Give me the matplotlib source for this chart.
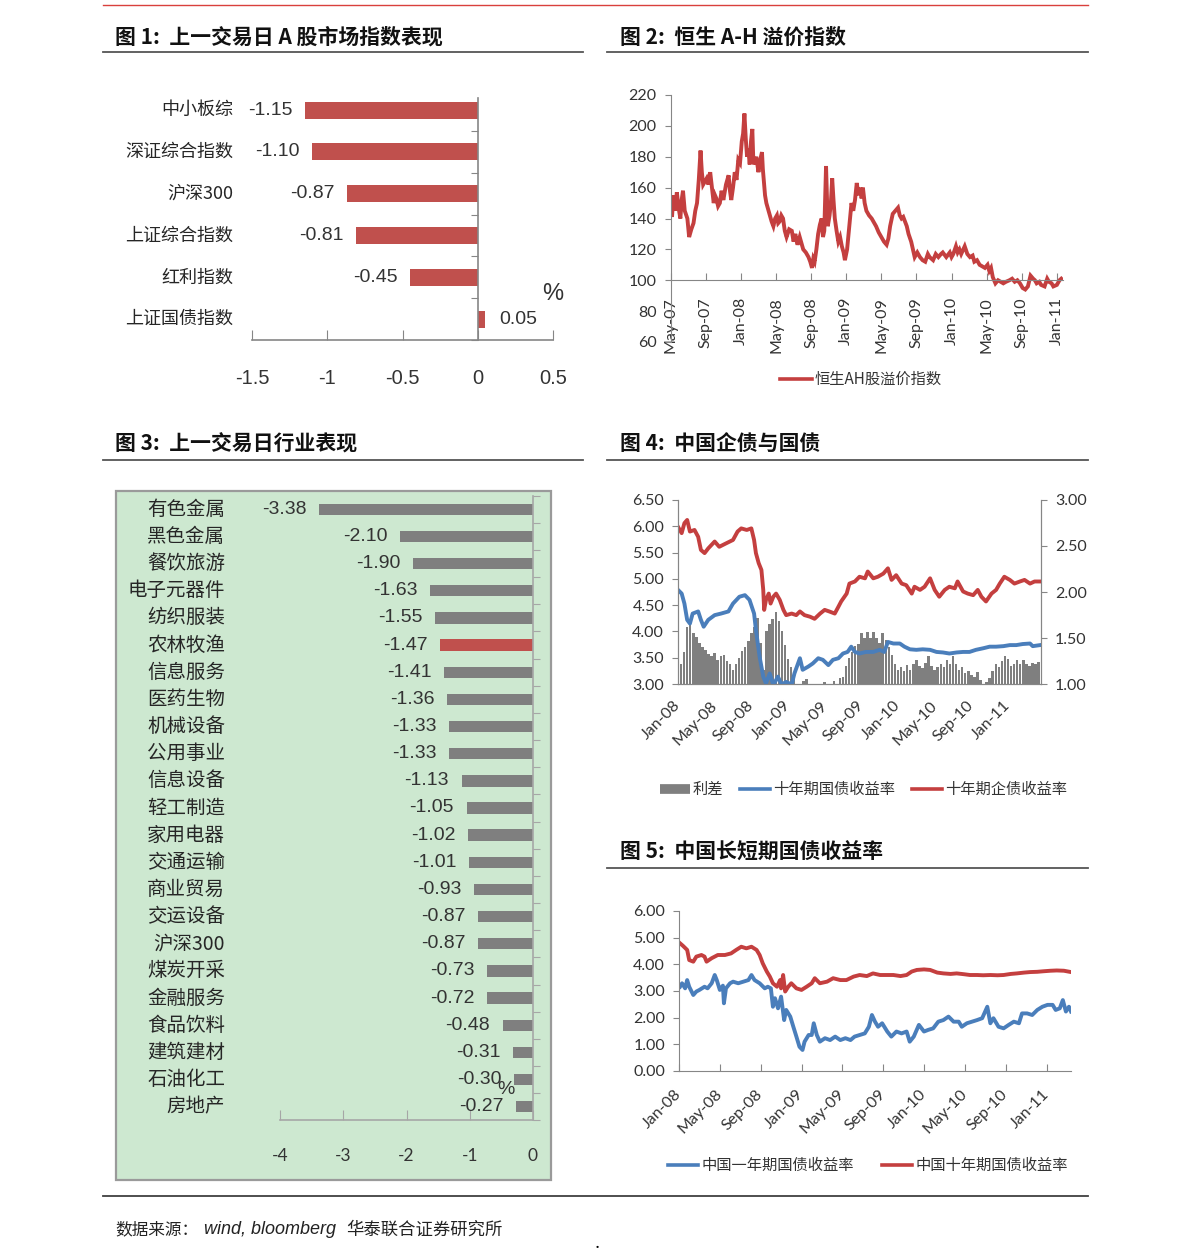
import matplotlib
matplotlib.use('Agg')
import matplotlib.pyplot as plt
import matplotlib.transforms as mtransforms
from matplotlib.patches import Rectangle
from matplotlib.lines import Line2D
import numpy as np

CJK = ['Noto Sans CJK SC', 'DejaVu Sans']
NUM = ['Liberation Sans Narrow', 'Liberation Sans', 'DejaVu Sans']
TICK = ['Lato', 'DejaVu Sans']
plt.rcParams['font.family'] = CJK

# ---------------- 数据 ----------------
# 图1 指数表现
idx_names = ['中小板综', '深证综合指数', '沪深300', '上证综合指数', '红利指数', '上证国债指数']
idx_chg = [-1.15, -1.10, -0.87, -0.81, -0.45, 0.05]

# 图2 恒生AH股溢价指数 (横轴: 自2007年5月起的月数)
ah_month = [0.0, 0.15, 0.3, 0.5, 0.7, 0.9, 1.1, 1.25, 1.4, 1.6, 1.9, 2.1, 2.35, 2.6, 2.8, 3.0,
            3.2, 3.4, 3.55, 3.7, 3.9, 4.1, 4.3, 4.5, 4.7, 4.9, 5.05, 5.2, 5.4, 5.6, 5.8, 6.0,
            6.3, 6.6, 6.75, 6.9, 7.1, 7.3, 7.5, 7.7, 7.9, 8.1, 8.25, 8.4, 8.55, 8.7, 8.85, 9.0,
            9.15, 9.3, 9.4, 9.5, 9.75, 10.0, 10.2, 10.4, 10.5, 10.6, 10.75, 10.9, 11.1, 11.3,
            11.5, 11.7, 11.9, 12.1, 12.25, 12.4, 12.6, 12.8, 13.0, 13.2, 13.5, 13.8, 14.0, 14.2,
            14.45, 14.7, 14.9, 15.1, 15.4, 15.7, 15.9, 16.1, 16.25, 16.4, 16.6, 16.8, 17.0,
            17.2, 17.35, 17.5, 17.7, 17.9, 18.1, 18.25, 18.4, 18.55, 18.7, 18.9, 19.1, 19.3,
            19.5, 19.7, 19.85, 20.1, 20.4, 20.6, 20.8, 21.0, 21.2, 21.4, 21.6, 21.75, 21.9,
            22.1, 22.3, 22.6, 22.9, 23.2, 23.4, 23.7, 24.0, 24.3, 24.6, 24.8, 25.0, 25.3,
            25.6, 25.9, 26.1, 26.3, 26.5, 26.7, 26.9, 27.1, 27.4, 27.8, 28.1, 28.4, 28.7,
            29.0, 29.3, 29.5, 29.9, 30.2, 30.5, 30.8, 31.0, 31.4, 31.8, 32.0, 32.2, 32.5,
            32.7, 32.9, 33.1, 33.5, 33.8, 34.1, 34.4, 34.6, 34.9, 35.2, 35.5, 35.8, 36.1,
            36.3, 36.5, 36.7, 37.0, 37.3, 37.6, 37.9, 38.2, 38.6, 38.9, 39.2, 39.5, 39.8,
            40.1, 40.4, 40.7, 41.0, 41.3, 41.5, 41.7, 42.0, 42.2, 42.6, 42.9, 43.1, 43.4,
            43.6, 44.0, 44.3, 44.5]
ah_value = [152, 141, 155, 145, 157, 147, 140, 152, 158, 145, 140, 128, 133, 137, 145, 150,
            165, 184, 170, 162, 164, 166, 162, 170, 160, 150, 155, 153, 148, 150, 158, 152,
            162, 168, 158, 152, 160, 170, 165, 178, 176, 190, 195, 208, 192, 180, 185, 175,
            190, 198, 180, 175, 180, 170, 178, 183, 172, 165, 155, 150, 146, 142, 138, 135,
            140, 142, 137, 138, 142, 140, 132, 128, 133, 132, 125, 130, 123, 128, 124, 120,
            118, 115, 112, 108, 114, 112, 120, 130, 136, 140, 128, 132, 174, 135, 142, 150,
            166, 152, 140, 132, 125, 128, 122, 118, 113, 120, 138, 150, 145, 152, 163, 155,
            160, 153, 160, 150, 145, 142, 140, 137, 135, 131, 128, 125, 123, 127, 135, 143,
            145, 147, 142, 140, 141, 138, 135, 130, 125, 115, 118, 115, 113, 112, 117, 115,
            113, 117, 115, 117, 118, 115, 118, 115, 117, 122, 118, 120, 117, 122, 117, 115,
            116, 112, 113, 110, 109, 108, 110, 106, 108, 102, 98, 100, 99, 98, 99, 100,
            101, 99, 100, 98, 95, 94, 96, 103, 101, 100, 98, 99, 97, 96, 101, 99, 98, 96,
            97, 100, 101]
ah_ticks = ['May-07', 'Sep-07', 'Jan-08', 'May-08', 'Sep-08', 'Jan-09', 'May-09',
            'Sep-09', 'Jan-10', 'May-10', 'Sep-10', 'Jan-11']

# 图3 行业表现
ind_names = ['有色金属', '黑色金属', '餐饮旅游', '电子元器件', '纺织服装', '农林牧渔', '信息服务',
             '医药生物', '机械设备', '公用事业', '信息设备', '轻工制造', '家用电器', '交通运输',
             '商业贸易', '交运设备', '沪深300', '煤炭开采', '金融服务', '食品饮料', '建筑建材',
             '石油化工', '房地产']
ind_chg = [-3.38, -2.10, -1.90, -1.63, -1.55, -1.47, -1.41, -1.36, -1.33, -1.33, -1.13, -1.05,
           -1.02, -1.01, -0.93, -0.87, -0.87, -0.73, -0.72, -0.48, -0.31, -0.30, -0.27]
ind_highlight = '农林牧渔'

# 图4 企债与国债 (横轴: 自2008年1月起的月数)
corp_month = [0.0, 0.4, 0.7, 1.0, 1.3, 1.8, 2.2, 2.5, 2.9, 3.3, 4.0, 4.5, 5.3, 6.0, 6.5, 6.9,
              7.5, 8.0, 8.3, 8.5, 8.8, 9.1, 9.3, 9.4, 9.6, 9.9, 10.1, 10.4, 10.7, 11.1, 11.5,
              11.8, 12.4, 12.9, 13.3, 13.8, 14.4, 14.9, 15.5, 16.0, 16.5, 17.1, 17.5, 17.8,
              18.4, 18.7, 19.3, 19.8, 20.4, 20.7, 21.3, 21.8, 22.4, 22.9, 23.3, 23.8, 24.4,
              24.9, 25.5, 25.8, 26.4, 26.9, 27.5, 28.0, 28.5, 29.1, 29.6, 30.2, 30.5, 31.1,
              31.6, 32.2, 32.7, 33.1, 33.6, 34.2, 34.7, 35.1, 35.6, 36.2, 36.7, 37.3, 37.8,
              38.4, 38.9, 39.5]
corp10 = [5.99, 5.87, 6.06, 6.12, 5.90, 5.93, 5.80, 5.55, 5.49, 5.58, 5.71, 5.61, 5.68, 5.74,
          5.90, 5.96, 5.93, 5.96, 5.74, 5.49, 5.30, 5.17, 4.79, 4.41, 4.60, 4.72, 4.53, 4.66,
          4.72, 4.60, 4.41, 4.31, 4.34, 4.31, 4.38, 4.31, 4.28, 4.24, 4.34, 4.41, 4.38, 4.34,
          4.47, 4.57, 4.72, 4.91, 4.95, 5.04, 5.01, 5.14, 5.01, 5.04, 5.10, 5.20, 4.98, 5.07,
          4.91, 4.88, 4.72, 4.85, 4.79, 4.85, 5.01, 4.79, 4.66, 4.79, 4.85, 4.82, 4.95, 4.76,
          4.72, 4.69, 4.79, 4.66, 4.57, 4.72, 4.79, 4.91, 5.04, 4.98, 4.91, 4.95, 4.98, 4.91,
          4.95, 4.95]
gov_month = [0.0, 0.4, 0.7, 1.0, 1.3, 1.6, 2.2, 2.5, 2.8, 3.3, 4.0, 4.7, 5.5, 6.0, 6.7, 7.3,
             7.8, 8.3, 8.5, 8.9, 9.3, 9.6, 10.0, 10.4, 10.9, 11.3, 11.8, 12.4, 12.7, 13.3, 13.6,
             14.2, 14.7, 15.3, 15.8, 16.4, 16.9, 17.5, 18.0, 18.5, 18.9, 19.3, 19.8, 20.5,
             21.3, 22.0, 22.5, 22.9, 23.5, 24.2, 24.7, 25.3, 26.0, 26.7, 27.5, 28.2, 28.9,
             29.6, 30.4, 31.1, 31.8, 32.5, 33.3, 34.0, 34.7, 35.5, 36.2, 36.9, 37.6, 38.4,
             38.7, 39.5]
gov10 = [4.79, 4.72, 4.53, 4.22, 4.15, 4.34, 4.38, 4.22, 4.09, 4.22, 4.31, 4.34, 4.38, 4.53,
         4.66, 4.69, 4.60, 4.34, 4.03, 3.52, 3.14, 3.01, 3.20, 2.98, 3.14, 2.99, 3.04, 2.99,
         3.20, 3.49, 3.27, 3.33, 3.39, 3.49, 3.46, 3.36, 3.46, 3.49, 3.58, 3.61, 3.71, 3.61,
         3.58, 3.61, 3.61, 3.65, 3.61, 3.80, 3.77, 3.77, 3.71, 3.66, 3.65, 3.66, 3.65, 3.61,
         3.60, 3.58, 3.60, 3.61, 3.61, 3.65, 3.68, 3.71, 3.71, 3.72, 3.74, 3.74, 3.76, 3.77,
         3.72, 3.74]
# 利差, 每1/3个月一个读数 (右轴)
spread = [1.30, 1.22, 1.35, 1.62, 1.66, 1.55, 1.51, 1.45, 1.40, 1.37, 1.33, 1.30, 1.34, 1.26,
          1.30, 1.32, 1.25, 1.22, 1.15, 1.22, 1.28, 1.36, 1.40, 1.47, 1.55, 1.62, 1.72, 1.45,
          1.15, 1.58, 1.65, 1.71, 1.78, 1.68, 1.58, 1.42, 1.27, 1.18, 1.05, 1.00, 1.00, 1.03,
          1.05, 1.00, 1.00, 1.00, 1.00, 1.00, 1.02, 1.00, 1.00, 1.03, 1.00, 1.06, 1.08, 1.20,
          1.28, 1.35, 1.41, 1.44, 1.55, 1.50, 1.57, 1.50, 1.56, 1.50, 1.45, 1.55, 1.48, 1.40,
          1.32, 1.22, 1.15, 1.19, 1.14, 1.21, 1.15, 1.22, 1.26, 1.20, 1.17, 1.23, 1.30, 1.20,
          1.15, 1.18, 1.22, 1.18, 1.26, 1.22, 1.30, 1.22, 1.15, 1.18, 1.12, 1.14, 1.10, 1.08,
          1.13, 1.04, 1.00, 1.02, 1.06, 1.14, 1.22, 1.19, 1.25, 1.30, 1.27, 1.20, 1.22, 1.26,
          1.22, 1.26, 1.22, 1.20, 1.23, 1.22, 1.24]
bond_ticks = ['Jan-08', 'May-08', 'Sep-08', 'Jan-09', 'May-09', 'Sep-09', 'Jan-10', 'May-10',
              'Sep-10', 'Jan-11']
fig4_legend = ['利差', '十年期国债收益率', '十年期企债收益率']

# 图5 长短期国债收益率
y10_month = [0.1, 0.4, 0.8, 1.0, 1.4, 1.7, 2.2, 2.5, 2.7, 3.2, 3.8, 4.5, 5.1, 5.6, 6.1, 6.6,
             7.1, 7.6, 7.9, 8.2, 8.6, 8.9, 9.2, 9.6, 9.9, 10.0, 10.2, 10.4, 10.7, 11.0, 11.5,
             12.0, 12.5, 13.0, 13.3, 13.8, 14.5, 15.1, 15.8, 16.4, 17.1, 17.7, 18.4, 19.0,
             19.7, 20.4, 21.0, 21.7, 22.3, 22.8, 23.3, 24.0, 24.6, 25.3, 25.9, 26.6, 27.2,
             27.9, 28.5, 29.2, 29.8, 30.5, 31.2, 31.8, 32.5, 33.1, 33.8, 34.4, 35.1, 35.7,
             36.4, 37.0, 37.7, 38.4]
y10_value = [4.79, 4.69, 4.54, 4.16, 4.10, 4.29, 4.35, 4.29, 4.10, 4.23, 4.35, 4.35, 4.41,
             4.54, 4.66, 4.60, 4.66, 4.54, 4.35, 4.04, 3.73, 3.54, 3.29, 3.16, 3.41, 3.10,
             3.60, 2.98, 3.16, 3.29, 3.10, 3.04, 3.16, 3.29, 3.48, 3.29, 3.35, 3.48, 3.41,
             3.41, 3.54, 3.60, 3.56, 3.66, 3.60, 3.60, 3.60, 3.56, 3.60, 3.73, 3.79, 3.81,
             3.79, 3.69, 3.66, 3.64, 3.66, 3.63, 3.60, 3.60, 3.59, 3.60, 3.59, 3.60, 3.64,
             3.66, 3.69, 3.71, 3.72, 3.74, 3.76, 3.77, 3.76, 3.71]
y1_month = [0.1, 0.3, 0.6, 0.8, 1.0, 1.4, 1.7, 2.0, 2.5, 2.8, 3.2, 3.5, 3.7, 4.0, 4.3, 4.4,
            4.6, 5.0, 5.3, 5.8, 6.3, 6.8, 7.1, 7.4, 7.9, 8.4, 8.7, 9.0, 9.2, 9.4, 9.7, 10.0,
            10.3, 10.5, 10.9, 11.2, 11.5, 11.8, 12.1, 12.3, 12.7, 13.0, 13.2, 13.5, 13.8,
            14.3, 14.8, 15.3, 15.8, 16.3, 16.8, 17.2, 17.7, 18.2, 18.6, 18.9, 19.2, 19.5,
            19.9, 20.4, 20.8, 21.3, 21.8, 22.3, 22.6, 23.0, 23.5, 24.0, 24.4, 24.9, 25.4,
            25.9, 26.4, 26.9, 27.4, 27.7, 28.2, 28.7, 29.2, 29.7, 30.2, 30.5, 30.8, 31.3,
            31.8, 32.3, 32.8, 33.3, 33.6, 34.1, 34.6, 35.1, 35.6, 36.1, 36.6, 36.9, 37.3,
            37.6, 37.9, 38.2, 38.4]
y1_value = [3.16, 3.29, 3.10, 3.41, 3.16, 2.85, 2.98, 3.04, 3.16, 3.10, 3.29, 3.60, 3.41,
            3.04, 3.20, 2.54, 3.10, 3.29, 3.35, 3.29, 3.35, 3.41, 3.60, 3.41, 3.29, 3.10,
            3.16, 3.10, 2.41, 2.73, 2.35, 2.79, 1.91, 2.29, 2.04, 1.66, 1.29, 0.91, 0.79,
            1.10, 1.35, 1.35, 1.79, 1.35, 1.10, 1.23, 1.16, 1.29, 1.16, 1.23, 1.16, 1.29,
            1.35, 1.41, 1.66, 2.10, 1.85, 1.66, 1.79, 1.48, 1.29, 1.48, 1.41, 1.48, 1.10,
            1.29, 1.73, 1.48, 1.54, 1.60, 1.85, 1.91, 2.04, 1.85, 1.85, 1.66, 1.79, 1.85,
            1.91, 1.98, 2.41, 1.79, 1.98, 1.66, 1.60, 1.73, 1.85, 1.79, 2.16, 2.16, 2.10,
            2.29, 2.41, 2.48, 2.48, 2.29, 2.35, 2.66, 2.23, 2.41, 2.23]
fig5_legend = ['中国一年期国债收益率', '中国十年期国债收益率']

RED = '#c0504d'
LINE_RED = '#c43f3f'
BLUE = '#4a7ebb'
GRAY_BAR = '#7f7f7f'
AXIS = '#868686'
TXT = '#262626'

W, H = 1191, 1260
fig = plt.figure(figsize=(W / 100, H / 100), dpi=100)


def px_axes(l, t, r, b):
    return fig.add_axes([l / W, 1 - b / H, (r - l) / W, (b - t) / H])


def fline(x0, x1, y0, y1, **kw):
    fig.add_artist(Line2D([x0 / W, x1 / W], [1 - y0 / H, 1 - y1 / H],
                          transform=fig.transFigure, **kw))


def ftext(x, y, s, **kw):
    fig.text(x / W, 1 - y / H, s, **kw)


# ---------------- 页面框架 ----------------
fline(103, 1088, 5, 5, color='#d9403c', lw=1.0)
titles = [(115, 37, '图 1:  上一交易日 A 股市场指数表现'),
          (620, 37, '图 2:  恒生 A-H 溢价指数'),
          (115, 444, '图 3:  上一交易日行业表现'),
          (620, 444, '图 4:  中国企债与国债'),
          (620, 852, '图 5:  中国长短期国债收益率')]
for x, y, s in titles:
    ftext(x, y, s, fontsize=15, fontweight='bold', va='center', family=CJK, color='#111111')
fline(103, 583, 52, 52, color='#555555', lw=1.3)
fline(607, 1088, 52, 52, color='#555555', lw=1.3)
fline(103, 583, 460, 460, color='#555555', lw=1.3)
fline(607, 1088, 460, 460, color='#555555', lw=1.3)
fline(607, 1088, 868, 868, color='#555555', lw=1.3)
fline(103, 1088, 1196, 1196, color='#404040', lw=1.3)

ftext(115, 1230, '数据来源：', fontsize=12, va='center', family=CJK, color='#222222')
ftext(204, 1230, 'wind, bloomberg', fontsize=13, va='center', style='italic',
      family=['Liberation Sans', 'DejaVu Sans'], color='#222222')
ftext(346, 1230, '华泰联合证券研究所', fontsize=12.5, va='center', family=CJK, color='#222222')
ftext(597, 1248, '•', fontsize=8, ha='center', va='center', color='black')

# ---------------- 图1 ----------------
ax1 = px_axes(252, 98, 553, 340)
y1pos = np.arange(len(idx_names))
ax1.barh(y1pos, idx_chg, height=0.41, color=RED)
ax1.spines['top'].set_visible(False)
ax1.spines['right'].set_visible(False)
ax1.spines['left'].set_position(('data', 0))
for s in ['left', 'bottom']:
    ax1.spines[s].set_color(AXIS)
    ax1.spines[s].set_linewidth(1.2)
ax1.set_yticks(np.arange(-0.5, len(idx_names), 1))
ax1.tick_params(axis='y', direction='out', length=5, color=AXIS, labelleft=False)
ax1.set_xticks([-1.5, -1, -0.5, 0, 0.5])
ax1.set_xticklabels(['-1.5', '-1', '-0.5', '0', '0.5'], family=NUM, fontsize=14.5, color='#333333')
ax1.tick_params(axis='x', direction='in', length=7, color=AXIS, pad=21)
ax1.set_xlim(-1.5, 0.5)
ax1.set_ylim(len(idx_names) - 0.5, -0.29)
tr1 = mtransforms.blended_transform_factory(ax1.transAxes, ax1.transData)
for i, (name, v) in enumerate(zip(idx_names, idx_chg)):
    ax1.text(-0.063, i, name, transform=tr1, ha='right', va='center', fontsize=13,
             family=CJK, color=TXT)
    ax1.annotate(f'{v:.2f}', (v, i), xytext=(-9 if v < 0 else 10, 0),
                 textcoords='offset points', ha='right' if v < 0 else 'left',
                 va='center', fontsize=14, family=NUM, color='#333333')
ftext(553, 294, '%', fontsize=17, ha='center', va='center', family=NUM, color='#333333')

# ---------------- 图2 ----------------
ax2 = px_axes(670.7, 95, 1063, 342)
ax2.plot(ah_month, ah_value, color=LINE_RED, lw=2.8, solid_joinstyle='miter')
ax2.set_yticks(range(60, 221, 20))
ax2.spines['top'].set_visible(False)
ax2.spines['right'].set_visible(False)
ax2.spines['bottom'].set_position(('data', 100))
for s in ['left', 'bottom']:
    ax2.spines[s].set_color(AXIS)
ax2.set_xticks(range(0, 45, 4))
ax2.set_xticklabels(ah_ticks, rotation=90, family=TICK, fontsize=11.5, color='#333333')
ax2.tick_params(axis='x', direction='in', length=5, color=AXIS, pad=12)
ax2.tick_params(axis='y', direction='out', length=4, color=AXIS, labelsize=11.5,
                labelcolor='#333333', pad=6)
for lbl in ax2.get_yticklabels():
    lbl.set_family(TICK)
ax2.set_xlim(0, 44.7)
ax2.set_ylim(60, 220)
fline(780, 812, 379, 379, color=LINE_RED, lw=2.6)
ftext(815, 379, '恒生AH股溢价指数', fontsize=11, va='center', family=CJK, color='#333333')

# ---------------- 图3 ----------------
fig.add_artist(Rectangle((116 / W, 1 - 1180 / H), (551 - 116) / W, (1180 - 491) / H,
                         transform=fig.transFigure, facecolor='#cde8d0',
                         edgecolor='#9a9a9a', lw=1.6, zorder=-1))
ax3 = px_axes(280, 495.7, 533, 1120.3)
ax3.patch.set_visible(False)
y3pos = np.arange(len(ind_names))
bar_colors = [RED if n == ind_highlight else GRAY_BAR for n in ind_names]
ax3.barh(y3pos, ind_chg, height=0.42, color=bar_colors)
ax3.spines['top'].set_visible(False)
ax3.spines['left'].set_visible(False)
for s in ['right', 'bottom']:
    ax3.spines[s].set_color('#a6a6a6')
    ax3.spines[s].set_linewidth(1.2)
ax3.yaxis.tick_right()
ax3.set_yticks(np.arange(-0.5, len(ind_names), 1))
ax3.tick_params(axis='y', direction='out', length=5, color='#a6a6a6', labelright=False)
ax3.set_xticks([-4, -3, -2, -1, 0])
ax3.set_xticklabels(['-4', '-3', '-2', '-1', '0'], family=TICK, fontsize=12.5, color='#333333')
ax3.tick_params(axis='x', direction='in', length=7, color='#a6a6a6', pad=20)
ax3.set_xlim(-4, 0)
ax3.set_ylim(len(ind_names) - 0.5, -0.5)
tr3 = mtransforms.blended_transform_factory(ax3.transAxes, ax3.transData)
for i, (name, v) in enumerate(zip(ind_names, ind_chg)):
    ax3.text(-0.217, i, name, transform=tr3, ha='right', va='center', fontsize=14,
             family=CJK, color=TXT)
    ax3.annotate(f'{v:.2f}', (v, i), xytext=(-9, 0), textcoords='offset points',
                 ha='right', va='center', fontsize=14, family=NUM, color='#333333')
ftext(506, 1090, '%', fontsize=14, ha='center', va='center', family=NUM, color='#333333')

# ---------------- 图4 ----------------
ax4 = px_axes(678, 500, 1041, 684)
ax4b = ax4.twinx()
spread_month = np.arange(len(spread)) / 3
ax4b.bar(spread_month, spread, width=0.27, color=GRAY_BAR, linewidth=0)
ax4.set_zorder(ax4b.get_zorder() + 1)
ax4.patch.set_visible(False)
ax4.plot(gov_month, gov10, color=BLUE, lw=2.8)
ax4.plot(corp_month, corp10, color=LINE_RED, lw=2.8)
ax4.set_yticks(np.arange(3, 6.51, 0.5))
ax4.set_yticklabels([f'{v:.2f}' for v in np.arange(3, 6.51, 0.5)], family=TICK,
                    fontsize=11.5, color='#333333')
ax4b.set_yticks(np.arange(1, 3.01, 0.5))
ax4b.set_yticklabels([f'{v:.2f}' for v in np.arange(1, 3.01, 0.5)], family=TICK,
                     fontsize=11.5, color='#333333')
for a in (ax4, ax4b):
    a.spines['top'].set_visible(False)
    for s in ['left', 'right', 'bottom']:
        a.spines[s].set_color(AXIS)
    a.tick_params(axis='y', direction='out', length=4, color=AXIS, pad=6)
ax4.set_xticks(range(0, 37, 4))
ax4.set_xticklabels(bond_ticks, family=TICK, fontsize=11.5, color='#333333')
plt.setp(ax4.get_xticklabels(), rotation=45, ha='right', va='center', rotation_mode='anchor')
ax4.tick_params(axis='x', length=0, pad=14)
ax4b.tick_params(axis='x', length=0, labelbottom=False)
ax4.set_xlim(0, 39.6)
ax4b.set_xlim(0, 39.6)
ax4.set_ylim(3, 6.5)
ax4b.set_ylim(1, 3)

fline(660, 690, 789, 789, color=GRAY_BAR, lw=7, solid_capstyle='butt')
ftext(693, 789, fig4_legend[0], fontsize=11, va='center', family=CJK, color='#333333')
fline(740, 770, 789, 789, color=BLUE, lw=2.6)
ftext(773, 789, fig4_legend[1], fontsize=11, va='center', family=CJK, color='#333333')
fline(912, 942, 789, 789, color=LINE_RED, lw=2.6)
ftext(945, 789, fig4_legend[2], fontsize=11, va='center', family=CJK, color='#333333')

# ---------------- 图5 ----------------
ax5 = px_axes(679, 911, 1071, 1071)
ax5.plot(y1_month, y1_value, color=BLUE, lw=2.8)
ax5.plot(y10_month, y10_value, color=LINE_RED, lw=2.8)
ax5.set_yticks(np.arange(0, 6.01, 1))
ax5.set_yticklabels([f'{v:.2f}' for v in np.arange(0, 6.01, 1)], family=TICK,
                    fontsize=11.5, color='#333333')
ax5.spines['top'].set_visible(False)
ax5.spines['right'].set_visible(False)
for s in ['left', 'bottom']:
    ax5.spines[s].set_color(AXIS)
ax5.tick_params(axis='y', direction='out', length=4, color=AXIS, pad=6)
ax5.set_xticks(range(0, 37, 4))
ax5.set_xticklabels(bond_ticks, family=TICK, fontsize=11.5, color='#333333')
plt.setp(ax5.get_xticklabels(), rotation=45, ha='right', va='center', rotation_mode='anchor')
ax5.tick_params(axis='x', direction='in', length=5, color=AXIS, pad=15)
ax5.set_xlim(0, 38.4)
ax5.set_ylim(0, 6)

fline(668, 698, 1165, 1165, color=BLUE, lw=2.6)
ftext(702, 1165, fig5_legend[0], fontsize=11, va='center', family=CJK, color='#333333')
fline(882, 912, 1165, 1165, color=LINE_RED, lw=2.6)
ftext(916, 1165, fig5_legend[1], fontsize=11, va='center', family=CJK, color='#333333')

fig.savefig('out.png', dpi=100)
